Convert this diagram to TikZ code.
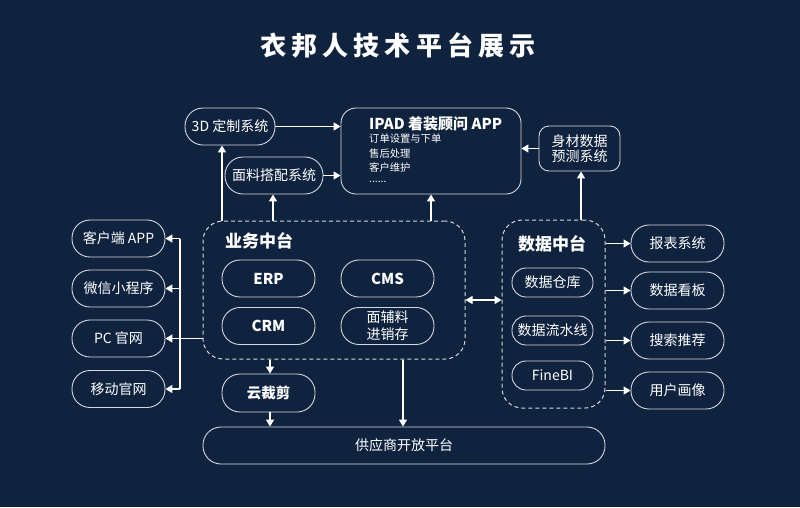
\documentclass[tikz,border=0pt]{standalone}
\usepackage{fontspec}
\setmainfont{Noto Sans CJK SC}
\usetikzlibrary{arrows.meta,calc}
\definecolor{bg}{RGB}{15,35,63}
\definecolor{edge}{RGB}{210,216,224}
\begin{document}
\begin{tikzpicture}[x=1pt,y=-1pt,
  every node/.style={text=white, inner sep=0pt, align=center},
  pill/.style={draw=edge, line width=0.9pt, rounded corners=18pt,
    minimum width=93pt, minimum height=37pt, font=\fontsize{14}{17}\selectfont},
  small/.style={draw=edge, line width=0.9pt, rounded corners=14pt,
    minimum width=81pt, minimum height=29pt, font=\fontsize{14}{17}\selectfont},
  dbox/.style={draw=edge, line width=1pt, dash pattern=on 4pt off 3pt, rounded corners=20pt},
  arr/.style={draw=white, line width=1.4pt, -{Triangle[width=8pt,length=7pt]}},
  darr/.style={draw=white, line width=1.4pt, {Triangle[width=8pt,length=7pt]}-{Triangle[width=8pt,length=7pt]}},
  bus/.style={draw=white, line width=1.4pt},
  boldlbl/.style={font=\bfseries\fontsize{15}{18}\selectfont},
  sub/.style={anchor=west, font=\fontsize{10.3}{12}\selectfont}
]
\fill[bg] (0,0) rectangle (800,507);

% title
\node[font=\bfseries\fontsize{26}{30}\selectfont\addfontfeatures{LetterSpace=20}] (title) at (398,45) {衣邦人技术平台展示};

% top row
\node[pill, minimum width=90pt] (d3) at (230,126.5) {3D 定制系统};
\node[pill, minimum width=98pt] (ml) at (274,175.5) {面料搭配系统};
\node[draw=edge, line width=0.9pt, rounded corners=15pt, minimum width=180pt, minimum height=86pt] (ipad) at (431,151) {};
\node[anchor=west, boldlbl] (ipt) at (369,124) {IPAD 着装顾问 APP};
\node[sub] (s1) at (369,139) {订单设置与下单};
\node[sub] (s2) at (369,153.5) {售后处理};
\node[sub] (s3) at (369,168) {客户维护};
\node[sub] (s4) at (369,182) {......};
\node[draw=edge, line width=0.9pt, rounded corners=10pt, minimum width=81pt, minimum height=45pt,
  font=\fontsize{14}{15.5}\selectfont] (sc) at (579.5,148.5) {身材数据\\预测系统};

% business middle platform
\node[dbox, minimum width=262pt, minimum height=138pt] (yw) at (334,290) {};
\node[anchor=west, font=\bfseries\fontsize{17}{20}\selectfont] (ywt) at (225,241) {业务中台};
\node[pill, boldlbl] (erp) at (268.5,278.5) {ERP};
\node[pill, boldlbl] (cms) at (387.5,278.5) {CMS};
\node[pill, boldlbl] (crm) at (268.5,326) {CRM};
\node[pill, font=\fontsize{14}{17}\selectfont] (mf) at (387.5,326) {面辅料\\进销存};

% data middle platform
\node[dbox, minimum width=103pt, minimum height=188pt] (sj) at (553.5,314) {};
\node[font=\bfseries\fontsize{17}{20}\selectfont] (sjt) at (552,244) {数据中台};
\node[small] (ck) at (552.5,282.5) {数据仓库};
\node[small] (lsx) at (552.5,330.5) {数据流水线};
\node[small] (bi) at (552.5,375.5) {FineBI};

% left column
\node[pill] (kh) at (118.5,238.5) {客户端 APP};
\node[pill] (wx) at (118.5,288.5) {微信小程序};
\node[pill] (pc) at (118.5,338.5) {PC 官网};
\node[pill] (yd) at (118.5,389) {移动官网};

% right column
\node[pill] (bb) at (677.5,243.5) {报表系统};
\node[pill] (kb) at (677.5,290.5) {数据看板};
\node[pill] (ss) at (677.5,340.5) {搜索推荐};
\node[pill] (hx) at (677.5,390.5) {用户画像};

% bottom
\node[pill, boldlbl, font=\bfseries\fontsize{14.5}{17}\selectfont, minimum height=38pt] (yc) at (268.5,393) {云裁剪};
\node[pill, minimum width=402pt] (gy) at (404,445.5) {供应商开放平台};

% helper coordinates
\coordinate (u1) at (222,0);
\coordinate (u2) at (273,0);
\coordinate (u4) at (581,0);
\coordinate (u5) at (0,300);
\coordinate (u6) at (270,0);
\coordinate (u7) at (403,0);
\coordinate (busT) at (180,238.5);
\coordinate (busB) at (180,389);

% top arrows
\draw[arr] (d3.east) -- (ipad.west |- d3.east);
\draw[arr] (ml.east) -- (ipad.west |- ml.east);
\draw[arr] (sc.west) -- (ipad.east |- sc.west);
\draw[arr] (yw.north -| u1) -- (d3.south -| u1);
\draw[arr] (yw.north -| u2) -- (ml.south -| u2);
\draw[arr] (yw.north -| ipad) -- (ipad.south);
\draw[arr] (sj.north -| u4) -- (sc.south -| u4);

% middle
\draw[darr] (yw.east |- u5) -- (sj.west |- u5);

% left bus
\draw[bus] (busT) -- (busB);
\draw[arr] (busT) -- (kh.east);
\draw[arr] (wx.east -| busT) -- (wx.east);
\draw[arr] (yw.west |- pc.east) -- (pc.east);
\draw[arr] (busB) -- (yd.east);

% right arrows
\draw[arr] (sj.east |- bb.west) -- (bb.west);
\draw[arr] (sj.east |- kb.west) -- (kb.west);
\draw[arr] (sj.east |- ss.west) -- (ss.west);
\draw[arr] (sj.east |- hx.west) -- (hx.west);

% bottom arrows
\draw[arr] (yw.south -| u6) -- (yc.north -| u6);
\draw[arr] (yc.south -| u6) -- (gy.north -| u6);
\draw[arr] (yw.south -| u7) -- (gy.north -| u7);
\end{tikzpicture}
\end{document}
